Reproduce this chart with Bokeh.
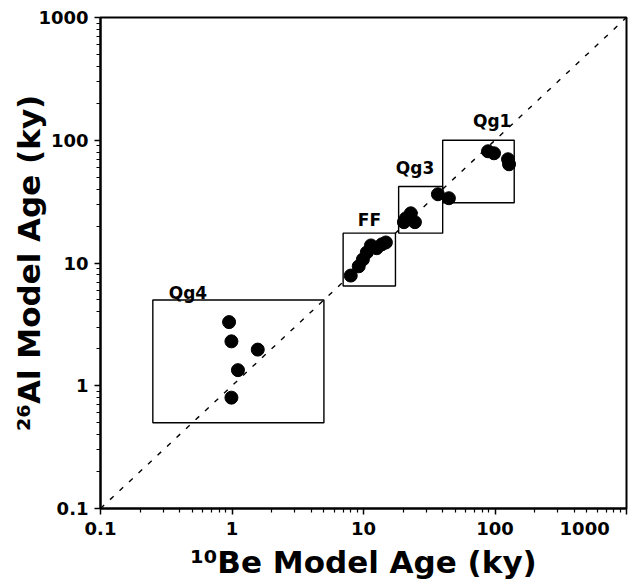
from bokeh.plotting import figure
from bokeh.models import FixedTicker, CustomJSTickFormatter, ColumnDataSource
from bokeh.core.properties import value
from bokeh.embed import file_html
from bokeh.resources import INLINE

# ---- data (ky) ----
be_qg4 = [0.95, 0.99, 1.57, 1.11, 0.99]
al_qg4 = [3.3, 2.3, 1.97, 1.34, 0.80]
be_ff = [8.0, 9.2, 9.9, 10.6, 11.4, 12.6, 13.8, 14.8]
al_ff = [7.9, 9.4, 10.7, 12.2, 13.9, 13.2, 14.2, 14.7]
be_qg3 = [20.3, 21.0, 22.9, 24.6, 36.8]
al_qg3 = [21.5, 23.1, 25.4, 21.5, 36.3]
be_qg1 = [44.6, 88.5, 98.3, 125.6, 127.9]
al_qg1 = [33.7, 81.3, 78.3, 70.0, 63.7]

box_names = ["Qg4", "FF", "Qg3", "Qg1"]
box_be_min = [0.25, 7.0, 18.5, 40.0]
box_be_max = [5.0, 17.5, 40.0, 140.0]
box_al_min = [0.5, 6.5, 17.5, 31.0]
box_al_max = [5.0, 17.5, 42.0, 100.0]
label_be = [0.33, 9.05, 17.6, 68.0]
label_al = [5.65, 22.3, 59.0, 143.0]

one_to_one = [0.1, 1000]
major_ticks = [0.1, 1, 10, 100, 1000]
minor_ticks = [m * 10.0 ** e for e in range(-1, 3) for m in range(2, 10)]

FONT = "DejaVu Sans"

p = figure(x_axis_type="log", y_axis_type="log",
           x_range=(0.1, 1000), y_range=(0.1, 1000),
           frame_width=526, frame_height=491,
           min_border_left=100, min_border_top=17, min_border_right=2, min_border_bottom=10,
           output_backend="svg", toolbar_location=None)
p.grid.visible = False
p.outline_line_color = "black"
p.outline_line_width = 2
p.outline_line_alpha = 1
p.background_fill_color = "white"
p.border_fill_color = "white"

# 1:1 line
p.line(one_to_one, one_to_one, line_color="black", line_dash="5 8", line_width=1.4)

# boxes
boxes = ColumnDataSource(dict(left=box_be_min, right=box_be_max, bottom=box_al_min, top=box_al_max))
p.quad(left="left", right="right", bottom="bottom", top="top", source=boxes,
       fill_alpha=0, line_color="black", line_width=1.4)

# points
all_be = be_qg4 + be_ff + be_qg3 + be_qg1
all_al = al_qg4 + al_ff + al_qg3 + al_qg1
p.scatter(all_be, all_al, size=13, marker="circle", fill_color="black", line_color="black")

# group labels
labels = ColumnDataSource(dict(x=label_be, y=label_al, t=box_names))
p.text(x="x", y="y", text="t", source=labels, text_font=value(FONT), text_font_style="bold",
       text_font_size="17px", text_align="left", text_baseline="alphabetic", text_color="black")

ticker = FixedTicker(ticks=major_ticks, minor_ticks=minor_ticks)
for ax in (p.xaxis[0], p.yaxis[0]):
    ax.ticker = ticker
    ax.axis_line_width = 2
    ax.major_tick_line_width = 1.5
    ax.minor_tick_line_width = 1.2
    ax.major_tick_in = 0
    ax.major_tick_out = 6
    ax.minor_tick_in = 0
    ax.minor_tick_out = 4
    ax.major_label_text_font = FONT
    ax.major_label_text_font_style = "bold"
    ax.major_label_text_font_size = "18px"
    ax.major_label_text_color = "black"
    ax.axis_label_text_font = FONT
    ax.axis_label_text_font_style = "bold"
    ax.axis_label_text_color = "black"

p.xaxis.axis_label_text_font_size = "31px"
p.yaxis.axis_label_text_font_size = "31px"

# last x label is shifted left (padded with no-break spaces), as in the original
p.xaxis.formatter = CustomJSTickFormatter(code="""
    if (tick >= 1000) return "1000" + "\\u00a0".repeat(3);
    return tick < 1 ? tick.toString() : tick.toFixed(0);
""")
p.yaxis.formatter = CustomJSTickFormatter(code="""
    return tick < 1 ? tick.toString() : tick.toFixed(0);
""")
p.xaxis.major_label_standoff = 3
p.yaxis.major_label_standoff = 6
p.xaxis.axis_label = "¹⁰Be Model Age (ky)"
p.yaxis.axis_label = "²⁶Al Model Age (ky)"
p.xaxis.axis_label_standoff = 2
p.yaxis.axis_label_standoff = -12

open("out.html", "w").write(file_html(p, INLINE))
